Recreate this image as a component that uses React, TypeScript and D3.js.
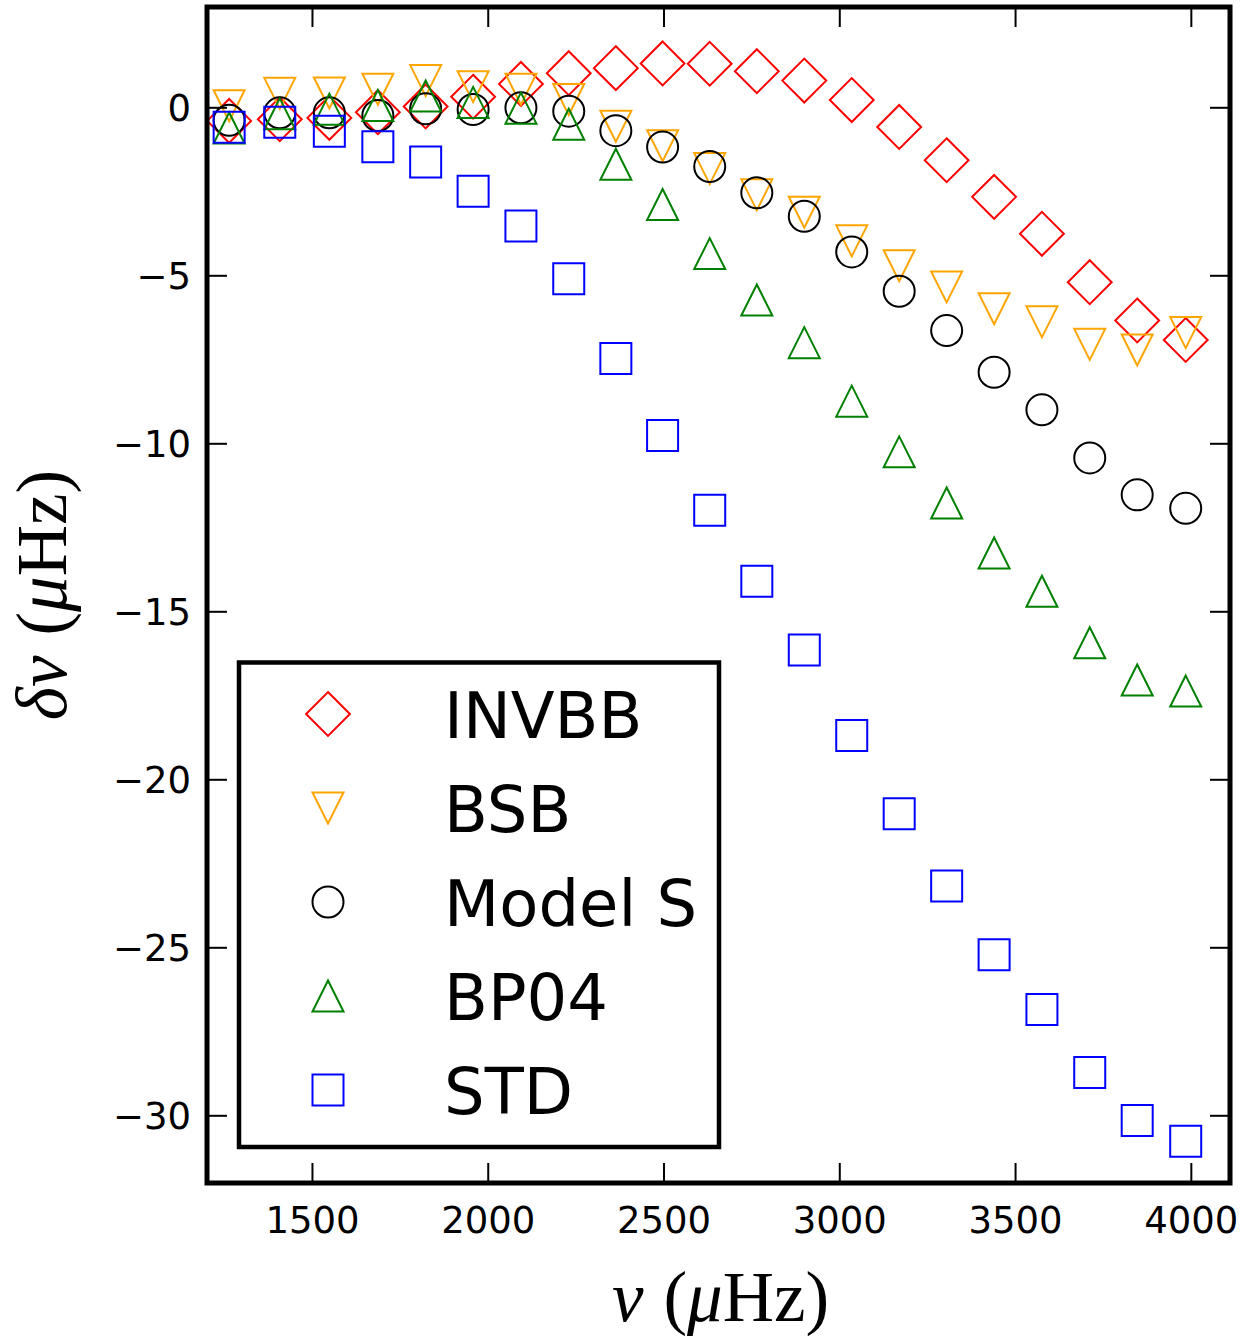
import React from "react";
import * as d3 from "d3";

// mode frequencies (μHz)
const freqs = [1263, 1407, 1548, 1686, 1822, 1957, 2093, 2229, 2363, 2496, 2630, 2764, 2899, 3034, 3169, 3304, 3439, 3575, 3711, 3846, 3984];

const invbb = [-0.39, -0.34, -0.30, -0.13, 0.04, 0.33, 0.71, 1.03, 1.18, 1.32, 1.31, 1.09, 0.81, 0.23, -0.57, -1.56, -2.65, -3.75, -5.19, -6.33, -6.91];
const bsb = [0.06, 0.43, 0.44, 0.55, 0.81, 0.63, 0.55, 0.25, -0.55, -1.13, -1.81, -2.59, -3.11, -3.96, -4.70, -5.33, -5.98, -6.37, -7.04, -7.21, -6.69];
const modelS = [-0.37, -0.15, -0.15, -0.23, -0.03, -0.05, 0.0, -0.10, -0.68, -1.17, -1.75, -2.53, -3.23, -4.29, -5.46, -6.63, -7.87, -8.99, -10.42, -11.52, -11.92];
const bp04 = [-0.60, -0.18, -0.04, 0.07, 0.35, 0.16, -0.01, -0.49, -1.68, -2.88, -4.34, -5.72, -6.99, -8.73, -10.24, -11.76, -13.25, -14.39, -15.92, -17.03, -17.36];
const std = [-0.58, -0.43, -0.70, -1.16, -1.61, -2.48, -3.52, -5.09, -7.46, -9.75, -11.98, -14.09, -16.14, -18.68, -21.01, -23.16, -25.21, -26.84, -28.71, -30.14, -30.76];

const seriesNames = ["INVBB", "BSB", "Model S", "BP04", "STD"];
const seriesColors = ["#ff0000", "#ffa500", "#000000", "#008000", "#0000ff"];
const seriesShapes = ["diamond", "down", "circle", "up", "square"];
const seriesValues = [invbb, bsb, modelS, bp04, std];

const xTicks = [1500, 2000, 2500, 3000, 3500, 4000];
const yTicks = [0, -5, -10, -15, -20, -25, -30];

const W = 1253;
const H = 1339;
const left = 207, right = 1230, top = 7, bottom = 1183;
const MS = 31;

function markerPath(shape: string, s: number): string {
  const h = s / 2;
  if (shape === "diamond") {
    const d = h * Math.SQRT2;
    return `M0,${-d}L${d},0L0,${d}L${-d},0Z`;
  }
  if (shape === "down") return `M${-h},${-h}L${h},${-h}L0,${h}Z`;
  if (shape === "up") return `M0,${-h}L${h},${h}L${-h},${h}Z`;
  if (shape === "square") return `M${-h},${-h}L${h},${-h}L${h},${h}L${-h},${h}Z`;
  return "";
}

function Marker({ shape, color, x, y }: { shape: string; color: string; x: number; y: number }) {
  if (shape === "circle") {
    return <circle cx={x} cy={y} r={MS / 2} fill="none" stroke={color} strokeWidth={2} />;
  }
  return (
    <path
      d={markerPath(shape, MS)}
      transform={`translate(${x},${y})`}
      fill="none"
      stroke={color}
      strokeWidth={2}
      strokeLinejoin="miter"
    />
  );
}

export default function App() {
  const x = d3.scaleLinear().domain([1200, 4110]).range([left, right]);
  const y = d3.scaleLinear().domain([-32, 3]).range([bottom, top]);

  const tickFont = "DejaVu Sans";
  const legendX = 328;
  const legendY0 = 714;
  const legendStep = 94;

  return (
    <svg
      width={W}
      height={H}
      style={{ position: "absolute", left: 0, top: 0, background: "#fff" }}
      xmlns="http://www.w3.org/2000/svg"
    >
      <rect x={0} y={0} width={W} height={H} fill="#fff" />
      <defs>
        <clipPath id="plotclip">
          <rect x={left} y={top} width={right - left} height={bottom - top} />
        </clipPath>
      </defs>

      {/* data */}
      <g clipPath="url(#plotclip)">
        {seriesValues.map((vals, si) => (
          <g key={seriesNames[si]}>
            {vals.map((v, i) => (
              <Marker key={i} shape={seriesShapes[si]} color={seriesColors[si]} x={x(freqs[i])} y={y(v)} />
            ))}
          </g>
        ))}
      </g>

      {/* ticks */}
      {xTicks.map((t) => (
        <g key={"xt" + t}>
          <line x1={x(t)} x2={x(t)} y1={bottom} y2={bottom - 20} stroke="#000" strokeWidth={2} />
          <line x1={x(t)} x2={x(t)} y1={top} y2={top + 20} stroke="#000" strokeWidth={2} />
          <text x={x(t)} y={1233} textAnchor="middle" fontFamily={tickFont} fontSize={37} fill="#000">
            {t}
          </text>
        </g>
      ))}
      {yTicks.map((t) => (
        <g key={"yt" + t}>
          <line x1={left} x2={left + 20} y1={y(t)} y2={y(t)} stroke="#000" strokeWidth={2} />
          <line x1={right} x2={right - 20} y1={y(t)} y2={y(t)} stroke="#000" strokeWidth={2} />
          <text x={191} y={y(t) + 13} textAnchor="end" fontFamily={tickFont} fontSize={37} fill="#000">
            {t < 0 ? "\u2212" + Math.abs(t) : String(t)}
          </text>
        </g>
      ))}

      {/* frame */}
      <rect x={left} y={top} width={right - left} height={bottom - top} fill="none" stroke="#000" strokeWidth={5} />

      {/* legend */}
      <rect x={239} y={662.5} width={480} height={484.5} fill="#fff" stroke="#000" strokeWidth={4.5} />
      {seriesNames.map((name, i) => (
        <g key={"lg" + name}>
          <Marker shape={seriesShapes[i]} color={seriesColors[i]} x={legendX} y={legendY0 + i * legendStep} />
          <text x={444} y={legendY0 + i * legendStep + 23.5} fontFamily={tickFont} fontSize={64} fill="#000">
            {name}
          </text>
        </g>
      ))}

      {/* axis labels */}
      <text x={(left + right) / 2 + 2} y={1321} textAnchor="middle" fontFamily="Liberation Serif" fontSize={71} fill="#000">
        <tspan fontStyle="italic">ν</tspan>
        <tspan dx={20}>(</tspan>
        <tspan fontStyle="italic">μ</tspan>
        <tspan>Hz)</tspan>
      </text>
      <text
        transform={`translate(66,${(top + bottom) / 2}) rotate(-90)`}
        textAnchor="middle"
        fontFamily="Liberation Serif"
        fontSize={71}
        fill="#000"
      >
        <tspan fontStyle="italic">δν</tspan>
        <tspan dx={20}>(</tspan>
        <tspan fontStyle="italic">μ</tspan>
        <tspan>Hz)</tspan>
      </text>
    </svg>
  );
}
